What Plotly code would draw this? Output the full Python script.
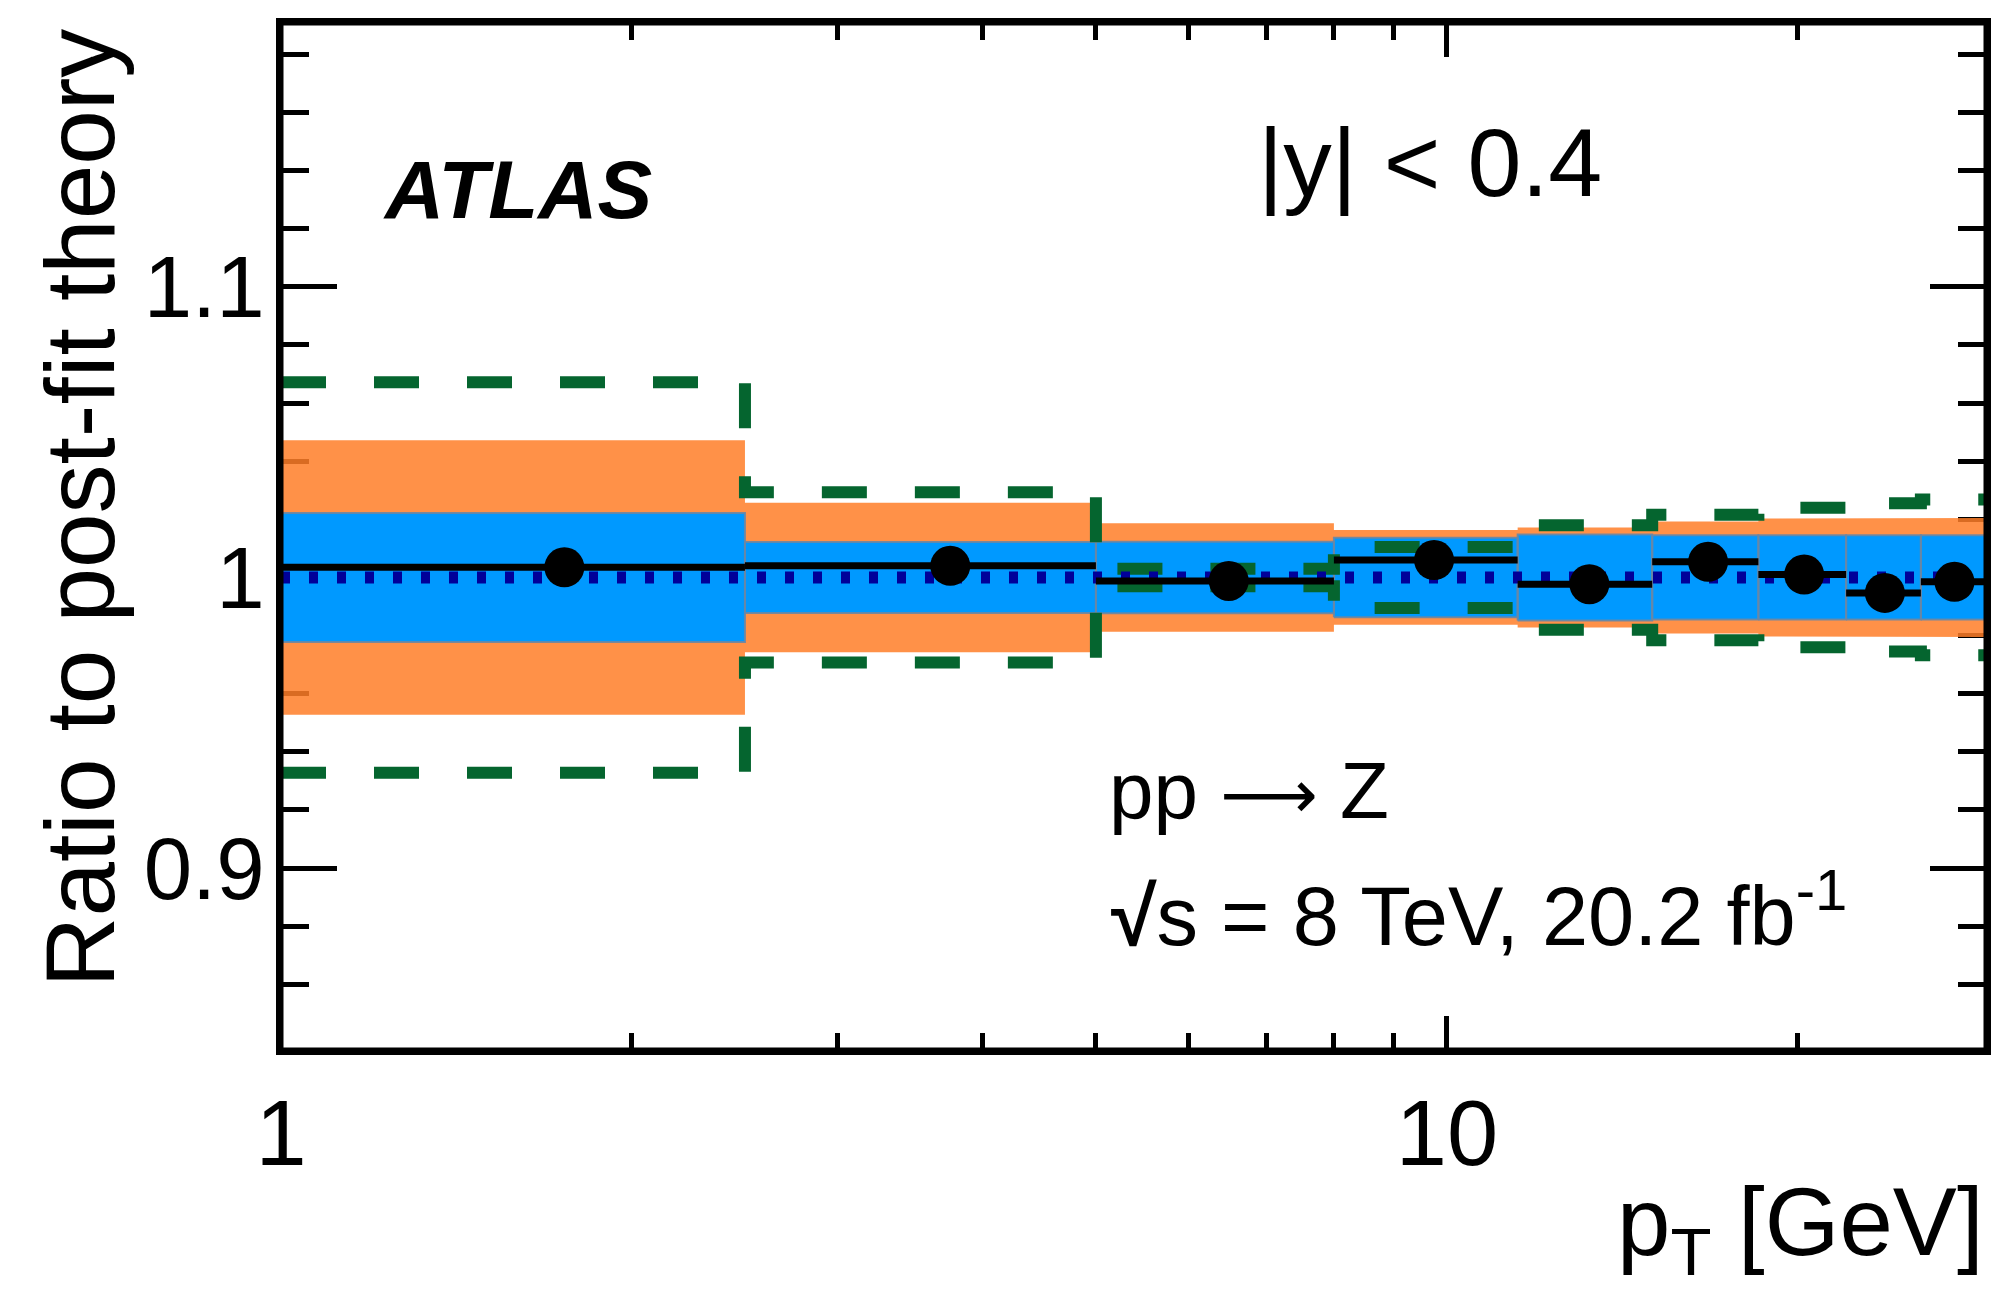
import math
import plotly.graph_objects as go

# Z-boson pT bins (GeV) for |y| < 0.4 and ratio of data to post-fit theory
pt_edges = [1.0, 2.5, 5.0, 8.0, 11.5, 15.0, 18.5, 22.0, 25.5, 29.0]
data_ratio = [1.0035, 1.0040, 0.9988, 1.0060, 0.9977, 1.0054, 1.0010, 0.9947, 0.9985]

# half-widths of the uncertainty bands around the post-fit prediction
unc_inner = [0.0222, 0.0122, 0.0123, 0.0137, 0.0148, 0.0145, 0.0145, 0.0145, 0.0145]
unc_outer = [0.0472, 0.0257, 0.0187, 0.0163, 0.0172, 0.0193, 0.0203, 0.0203, 0.0205]
unc_dashed = [0.0672, 0.0293, 0.0030, 0.0105, 0.0180, 0.0216, 0.0240, 0.0255, 0.0268]

x_tickvals = [1, 10]
x_ticktext = ["1", "10"]
x_minor = [2, 3, 4, 5, 6, 7, 8, 9, 20]
y_tickvals = [0.9, 1.0, 1.1]
y_ticktext = ["0.9", "1", "1.1"]
y_minor = [0.86, 0.88, 0.92, 0.94, 0.96, 0.98, 1.02, 1.04, 1.06, 1.08, 1.12, 1.14, 1.16, 1.18]

FONT = "Liberation Sans, Arial, Helvetica, sans-serif"
W, H = 2003, 1309
ML, MR, MT, MB = 281, 13, 23, 259

lo_edges = pt_edges[:-1]
hi_edges = pt_edges[1:]
centers = [(a + b) / 2 for a, b in zip(lo_edges, hi_edges)]

fig = go.Figure()

# outer (orange) band as one stepped polygon
ox, oy = [], []
for a, b, e in zip(lo_edges, hi_edges, unc_outer):
    ox += [a, b]
    oy += [1 + e, 1 + e]
for a, b, e in reversed(list(zip(lo_edges, hi_edges, unc_outer))):
    ox += [b, a]
    oy += [1 - e, 1 - e]
fig.add_trace(go.Scatter(x=ox, y=oy, fill="toself", mode="lines",
                         fillcolor="rgba(255,126,40,0.85)",
                         line=dict(width=0), hoverinfo="skip", showlegend=False))

# inner (blue) band: one outlined box per bin
bx, by = [], []
for a, b, e in zip(lo_edges, hi_edges, unc_inner):
    bx += [a, b, b, a, a, None]
    by += [1 - e, 1 - e, 1 + e, 1 + e, 1 - e, None]
fig.add_trace(go.Scatter(x=bx, y=by, fill="toself", mode="lines",
                         fillcolor="#0099ff",
                         line=dict(width=2, color="rgba(105,135,165,0.9)"),
                         hoverinfo="skip", showlegend=False))

# dashed (green) envelope drawn as upper and lower step lines
for sign in (1, -1):
    fig.add_trace(go.Scatter(
        x=pt_edges,
        y=[1 + sign * e for e in unc_dashed] + [1 + sign * unc_dashed[-1]],
        mode="lines", line_shape="hv",
        line=dict(color="#05652f", width=12, dash="45px,48px"),
        hoverinfo="skip", showlegend=False))

# post-fit theory reference at unity
fig.add_trace(go.Scatter(x=[pt_edges[0], pt_edges[-1]], y=[1.0, 1.0], mode="lines",
                         line=dict(color="#000099", width=12, dash="9px,19px"),
                         hoverinfo="skip", showlegend=False))

# data points with bin-width bars
fig.add_trace(go.Scatter(
    x=centers, y=data_ratio, mode="markers",
    marker=dict(color="black", size=40),
    error_x=dict(type="data", symmetric=False,
                 array=[b - c for b, c in zip(hi_edges, centers)],
                 arrayminus=[c - a for a, c in zip(lo_edges, centers)],
                 width=0, thickness=7, color="black"),
    hoverinfo="skip", showlegend=False))

fig.update_layout(
    width=W, height=H,
    margin=dict(l=ML, r=MR, t=MT, b=MB, pad=0),
    paper_bgcolor="white", plot_bgcolor="white",
    font=dict(family=FONT, color="black"),
    showlegend=False,
    xaxis=dict(
        type="log", range=[0, math.log10(pt_edges[-1])],
        tickvals=x_tickvals, ticktext=x_ticktext,
        ticks="inside", ticklen=34, tickwidth=5, tickcolor="black",
        showline=True, linewidth=5, linecolor="black", mirror="allticks",
        showgrid=False, zeroline=False, layer="below traces",
        tickfont=dict(size=92, family=FONT, color="black"),
        ticklabelstandoff=0,
        minor=dict(tickvals=x_minor, ticks="inside", ticklen=17,
                   tickwidth=5, tickcolor="black", showgrid=False),
    ),
    yaxis=dict(
        range=[0.8374, 1.1908],
        tickvals=y_tickvals, ticktext=y_ticktext,
        ticks="inside", ticklen=56, tickwidth=5, tickcolor="black",
        showline=True, linewidth=5, linecolor="black", mirror="allticks",
        showgrid=False, zeroline=False, layer="below traces",
        tickfont=dict(size=87, family=FONT, color="black"),
        ticklabelstandoff=-6,
        minor=dict(tickvals=y_minor, ticks="inside", ticklen=28,
                   tickwidth=5, tickcolor="black", showgrid=False),
    ),
)

# plot frame on top of the bands
fig.add_shape(type="rect", xref="paper", yref="paper", x0=0, x1=1, y0=0, y1=1,
              line=dict(color="black", width=5), layer="above")

ARROW = '<span style="font-family:DejaVu Sans;font-size:68px">⟶</span>'
annotations = [
    dict(text="<b><i>ATLAS</i></b>", x=0.0585, y=0.838, xanchor="left", yanchor="middle",
         font=dict(size=82)),
    dict(text="|y| < 0.4", x=0.5717, y=0.864, xanchor="left", yanchor="middle",
         font=dict(size=97)),
    dict(text="pp " + ARROW + " Z", x=0.4845, y=0.2525, xanchor="left", yanchor="middle",
         font=dict(size=80)),
    dict(text="<b>√</b>s = 8 TeV, 20.2 fb<sup>-1</sup>", x=0.4855, y=0.136, xanchor="left",
         yanchor="middle", font=dict(size=83)),
    dict(text="p<sub>T</sub> [GeV]", x=1.0, y=-0.174, xanchor="right", yanchor="middle",
         font=dict(size=96)),
    dict(text="Ratio to post-fit theory", x=-0.118, y=0.997, xanchor="center",
         yanchor="top", textangle=-90, font=dict(size=98)),
]
for a in annotations:
    a.update(xref="paper", yref="paper", showarrow=False)
    a["font"].update(family=FONT, color="black")
    fig.add_annotation(**a)

fig.write_html("out.html")
